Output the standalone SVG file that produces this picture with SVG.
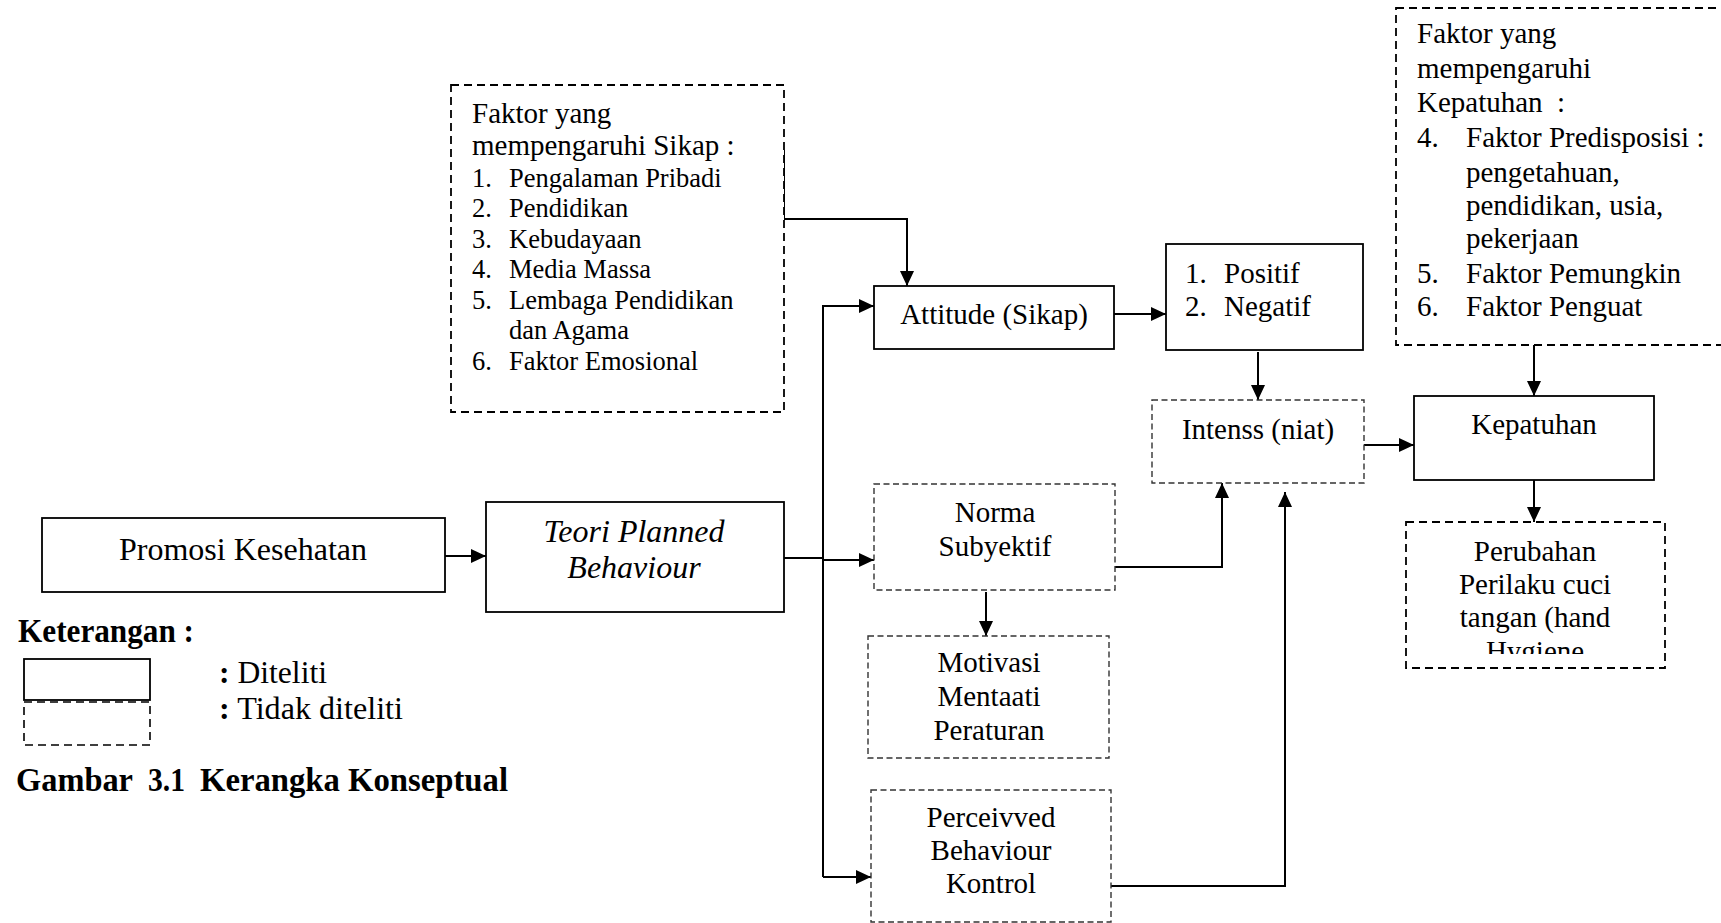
<svg xmlns="http://www.w3.org/2000/svg" width="1721" height="923" viewBox="0 0 1721 923">
<style>
text{font-family:"Liberation Serif","Times New Roman",serif;fill:#000}
.t29{font-size:29px}
.t32{font-size:32px}
.t26{font-size:26.5px}
.c{text-anchor:middle}
.b{font-weight:bold;font-size:33px}
.solid{fill:#fff;stroke:#000;stroke-width:1.8}
.dash{fill:#fff;stroke:#000;stroke-width:1.8;stroke-dasharray:8 5}
.dash2{fill:#fff;stroke:#333;stroke-width:1.4;stroke-dasharray:6 3.5}
.ln{fill:none;stroke:#000;stroke-width:2}
.ar{fill:none;stroke:#000;stroke-width:2;marker-end:url(#ah)}
</style>
<defs>
<marker id="ah" markerUnits="userSpaceOnUse" markerWidth="16" markerHeight="15" refX="15" refY="7" orient="auto">
<path d="M0,0 L15,7 L0,14 z" fill="#000"/>
</marker>
<clipPath id="clipPer"><rect x="1406" y="522" width="260" height="132"/></clipPath>
</defs>
<rect width="1721" height="923" fill="#fff"/>

<g id="connectors">
<polyline class="ar" points="784,150 784,219 907,219 907,286"/>
<line class="ar" x1="445" y1="556" x2="486" y2="556"/>
<line class="ln" x1="784" y1="558" x2="823" y2="558"/>
<line class="ln" x1="823" y1="306" x2="823" y2="877"/>
<line class="ar" x1="822" y1="306" x2="874" y2="306"/>
<line class="ar" x1="823" y1="560" x2="874" y2="560"/>
<line class="ar" x1="823" y1="877" x2="871" y2="877"/>
<line class="ar" x1="1114" y1="314" x2="1166" y2="314"/>
<line class="ar" x1="1258" y1="352" x2="1258" y2="400"/>
<line class="ar" x1="986" y1="592" x2="986" y2="636"/>
<polyline class="ar" points="1115,567 1222,567 1222,483"/>
<polyline class="ar" points="1111,886 1285,886 1285,492"/>
<line class="ar" x1="1364" y1="445" x2="1414" y2="445"/>
<line class="ar" x1="1534" y1="345" x2="1534" y2="396"/>
<line class="ar" x1="1534" y1="480" x2="1534" y2="522"/>
</g>

<g id="faktor-sikap">
<rect class="dash" x="451" y="85" width="333" height="327"/>
<text class="t29" x="472" y="123">Faktor yang</text>
<text class="t29" x="472" y="155">mempengaruhi Sikap :</text>
<text class="t26" x="472" y="187">1.</text><text class="t26" x="509" y="187">Pengalaman Pribadi</text>
<text class="t26" x="472" y="217">2.</text><text class="t26" x="509" y="217">Pendidikan</text>
<text class="t26" x="472" y="248">3.</text><text class="t26" x="509" y="248">Kebudayaan</text>
<text class="t26" x="472" y="278">4.</text><text class="t26" x="509" y="278">Media Massa</text>
<text class="t26" x="472" y="309">5.</text><text class="t26" x="509" y="309">Lembaga Pendidikan</text>
<text class="t26" x="509" y="339">dan Agama</text>
<text class="t26" x="472" y="370">6.</text><text class="t26" x="509" y="370">Faktor Emosional</text>
</g>

<g id="promosi">
<rect class="solid" x="42" y="518" width="403" height="74"/>
<text class="t32 c" x="243" y="560">Promosi Kesehatan</text>
</g>

<g id="teori">
<rect class="solid" x="486" y="502" width="298" height="110"/>
<text class="t32 c" x="634" y="542" font-style="italic">Teori Planned</text>
<text class="t32 c" x="634" y="578" font-style="italic">Behaviour</text>
</g>

<g id="attitude">
<rect class="solid" x="874" y="286" width="240" height="63"/>
<text class="t29 c" x="994" y="324">Attitude (Sikap)</text>
</g>

<g id="positif">
<rect class="solid" x="1166" y="244" width="197" height="106"/>
<text class="t29" x="1185" y="283">1.</text><text class="t29" x="1224" y="283">Positif</text>
<text class="t29" x="1185" y="316">2.</text><text class="t29" x="1224" y="316">Negatif</text>
</g>

<g id="intenss">
<rect class="dash2" x="1152" y="400" width="212" height="83"/>
<text class="t29 c" x="1258" y="439">Intenss (niat)</text>
</g>

<g id="norma">
<rect class="dash2" x="874" y="484" width="241" height="106"/>
<text class="t29 c" x="995" y="522">Norma</text>
<text class="t29 c" x="995" y="556">Subyektif</text>
</g>

<g id="motivasi">
<rect class="dash2" x="868" y="636" width="241" height="122"/>
<text class="t29 c" x="989" y="672">Motivasi</text>
<text class="t29 c" x="989" y="706">Mentaati</text>
<text class="t29 c" x="989" y="740">Peraturan</text>
</g>

<g id="perceived">
<rect class="dash2" x="871" y="790" width="240" height="132"/>
<text class="t29 c" x="991" y="827">Perceivved</text>
<text class="t29 c" x="991" y="860">Behaviour</text>
<text class="t29 c" x="991" y="893">Kontrol</text>
</g>

<g id="kepatuhan">
<rect class="solid" x="1414" y="396" width="240" height="84"/>
<text class="t29 c" x="1534" y="434">Kepatuhan</text>
</g>

<g id="faktor-kepatuhan">
<rect class="dash" x="1396" y="8" width="340" height="337"/>
<text class="t29" x="1417" y="43">Faktor yang</text>
<text class="t29" x="1417" y="78">mempengaruhi</text>
<text class="t29" x="1417" y="112" xml:space="preserve">Kepatuhan  :</text>
<text class="t29" x="1417" y="147">4.</text><text class="t29" x="1466" y="147">Faktor Predisposisi :</text>
<text class="t29" x="1466" y="182">pengetahuan,</text>
<text class="t29" x="1466" y="215">pendidikan, usia,</text>
<text class="t29" x="1466" y="248">pekerjaan</text>
<text class="t29" x="1417" y="283">5.</text><text class="t29" x="1466" y="283">Faktor Pemungkin</text>
<text class="t29" x="1417" y="316">6.</text><text class="t29" x="1466" y="316">Faktor Penguat</text>
</g>

<g id="perubahan">
<rect class="dash" x="1406" y="522" width="259" height="146"/>
<g clip-path="url(#clipPer)">
<text class="t29 c" x="1535" y="561">Perubahan</text>
<text class="t29 c" x="1535" y="594">Perilaku cuci</text>
<text class="t29 c" x="1535" y="627">tangan (hand</text>
<text class="t29 c" x="1535" y="661">Hygiene</text>
</g>
</g>

<g id="legend">
<text class="b" x="18" y="642" textLength="176" lengthAdjust="spacingAndGlyphs">Keterangan :</text>
<rect class="solid" x="24" y="659" width="126" height="41"/>
<path d="M24,702 L150,702 L150,745 L24,745 Z" fill="none" stroke="#000" stroke-width="1.6" stroke-dasharray="8 5"/>
<text font-size="31" x="219" y="683" textLength="108" lengthAdjust="spacingAndGlyphs"><tspan font-weight="bold">:</tspan> Diteliti</text>
<text font-size="31" x="219" y="719" textLength="184" lengthAdjust="spacingAndGlyphs"><tspan font-weight="bold">:</tspan> Tidak diteliti</text>
<text class="b" x="16" y="791" textLength="117" lengthAdjust="spacingAndGlyphs">Gambar</text>
<text class="b" x="148" y="791" textLength="37" lengthAdjust="spacingAndGlyphs">3.1</text>
<text class="b" x="200" y="791" textLength="308" lengthAdjust="spacingAndGlyphs">Kerangka Konseptual</text>
</g>
</svg>
